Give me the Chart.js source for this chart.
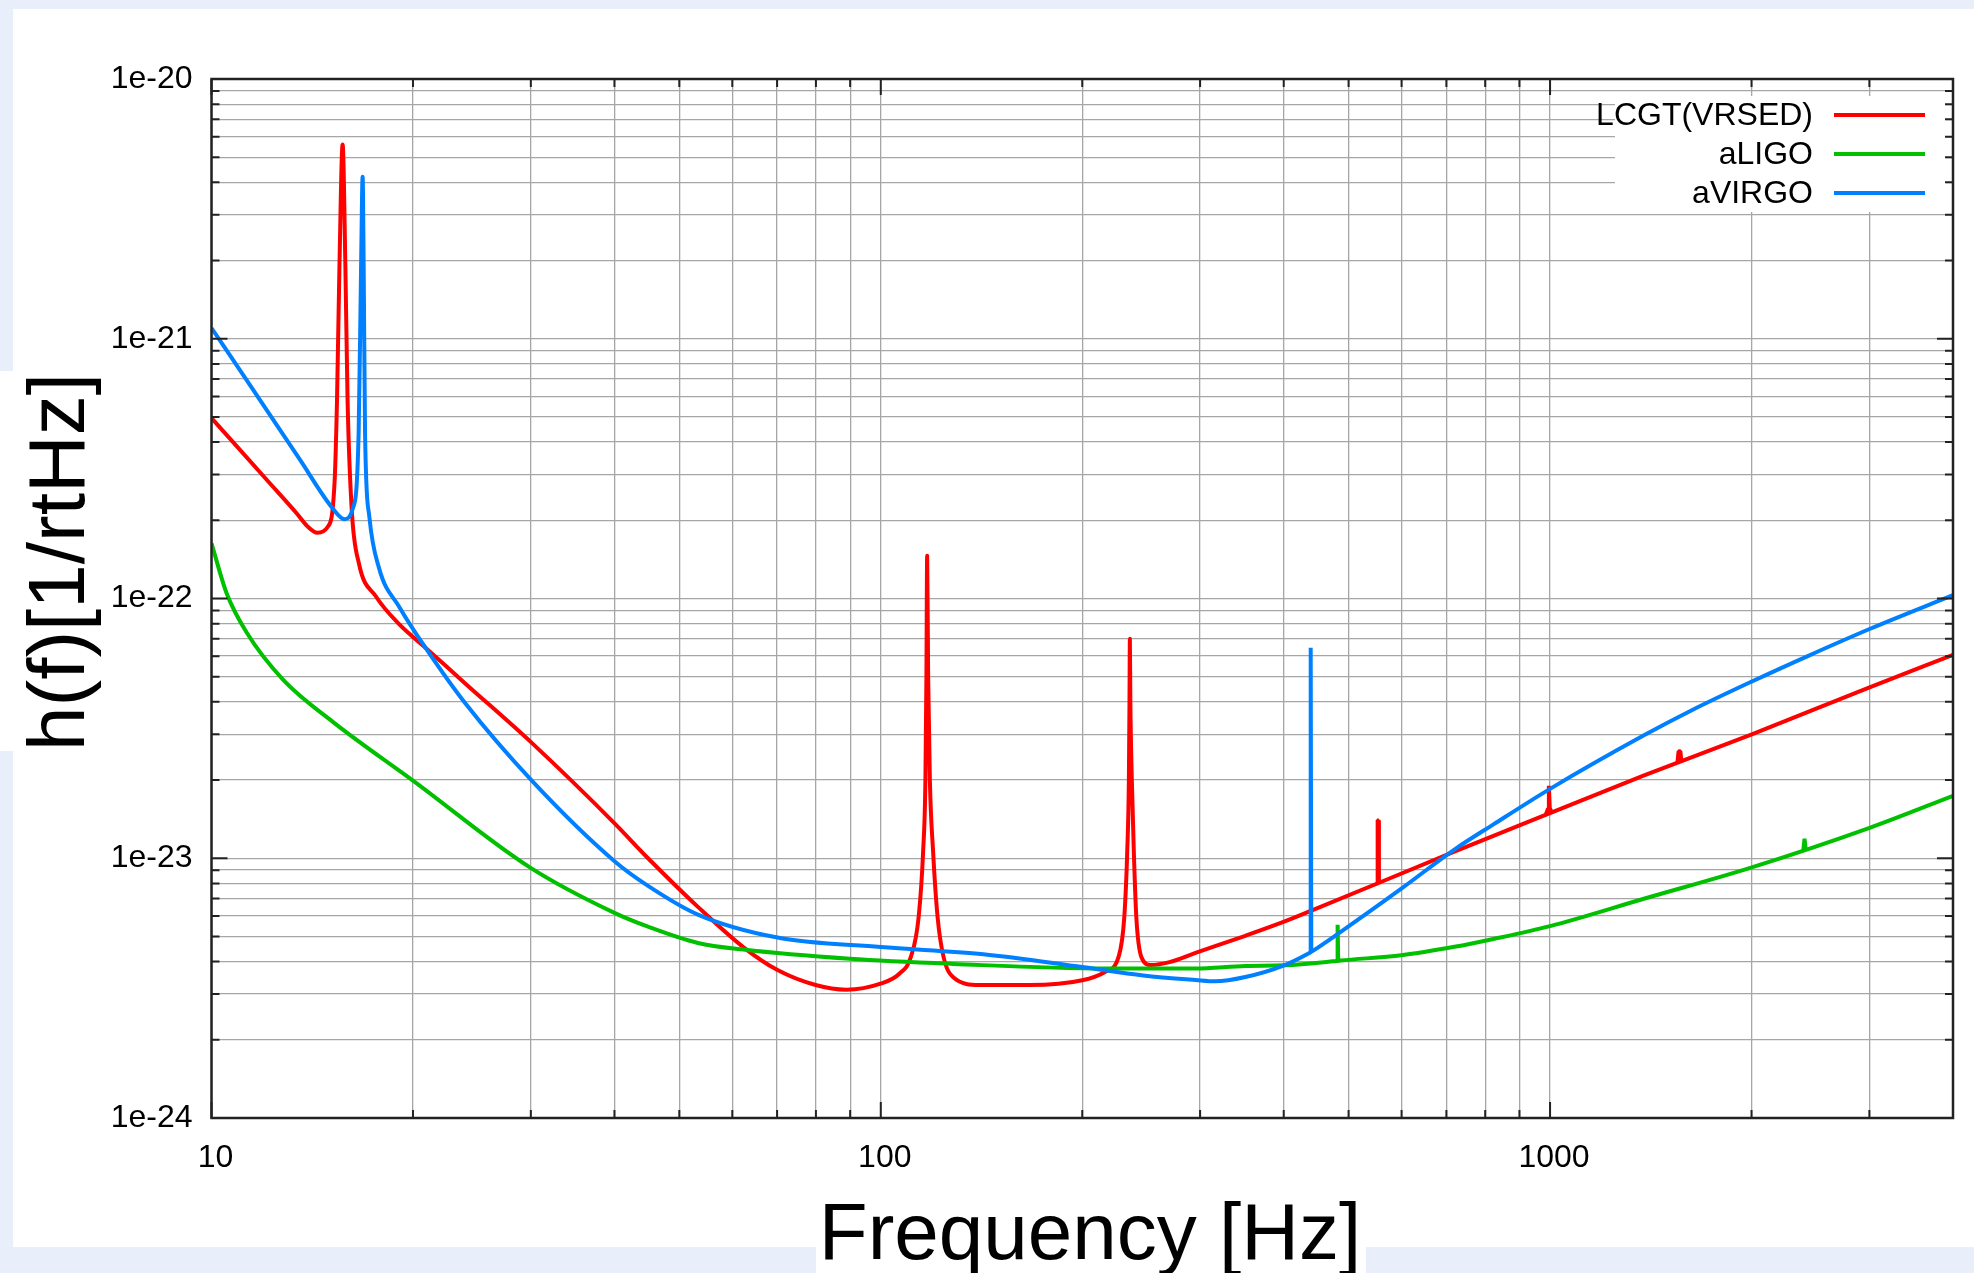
<!DOCTYPE html>
<html>
<head>
<meta charset="utf-8">
<title>Detector sensitivity curves</title>
<script src="https://cdn.jsdelivr.net/npm/chart.js@4.4.1/dist/chart.umd.min.js"></script>
<style>
  html, body { margin: 0; padding: 0; background: #e8effb; }
  #wrap { width: 1974px; height: 1273px; }
</style>
</head>
<body>
<div id="wrap"><canvas id="chart" width="1974" height="1273"></canvas></div>
<script>
// ---- series ---------------------------------------------------------------
const seriesNames  = ['LCGT(VRSED)', 'aLIGO', 'aVIRGO'];
const seriesColors = ['#ff0000', '#00c000', '#0080ff'];

// broadband noise curves (the big suspension / violin resonances included)
const lcgtFreq = [10, 10.77, 12.1, 13.4, 13.9, 14.4, 14.9, 15.27, 15.4, 15.53,
  15.7, 15.85, 15.97, 16.2, 16.6, 17.6, 19.07, 20.9, 23.96, 30.1,
  40.05, 44.9, 53.3, 62.3, 70.1, 79.9, 88.8, 99.9, 106.7, 110.9,
  113.9, 115.7, 116.6, 117.0, 117.3, 117.7, 118.4, 119.7, 121.6, 124.1,
  128.2, 140.5, 166.5, 200, 216.3, 226.6, 231.1, 233.5, 234.8, 235.3,
  235.6, 236.0, 237.2, 238.8, 240.9, 245.1, 253.3, 270, 295.3, 350.5,
  400.5, 439, 719.5, 823, 1379, 2002, 3002, 4000];
const lcgtStrain = [4.95e-22, 4.0e-22, 2.86e-22, 2.13e-22, 1.9e-22, 1.79e-22, 1.88e-22, 2.79e-22, 5.8e-22, 1.9e-21,
  5.6e-21, 1.9e-21, 5.8e-22, 2.2e-22, 1.37e-22, 1.02e-22, 7.96e-23, 6.45e-23, 4.7e-23, 2.78e-23,
  1.36e-23, 1.0e-23, 6.5e-24, 4.55e-24, 3.71e-24, 3.25e-24, 3.12e-24, 3.29e-24, 3.6e-24, 4.17e-24,
  5.92e-24, 1.07e-23, 2.0e-23, 5.0e-23, 1.46e-22, 5.0e-23, 2.0e-23, 1.07e-23, 5.92e-24, 4.17e-24,
  3.49e-24, 3.25e-24, 3.25e-24, 3.39e-24, 3.65e-24, 4.17e-24, 5.92e-24, 1.07e-23, 2.0e-23, 4.0e-23,
  7.0e-23, 4.0e-23, 2.0e-23, 1.07e-23, 5.92e-24, 4.17e-24, 3.88e-24, 3.98e-24, 4.32e-24, 5.03e-24,
  5.7e-24, 6.27e-24, 1.06e-23, 1.22e-23, 2.08e-23, 3.0e-23, 4.55e-23, 6.07e-23];

const aligoFreq = [10, 10.53, 11.28, 12.79, 15.18, 20, 29.9, 40, 44.9, 53.3,
  62.3, 89.9, 128.2, 216.3, 295.3, 350.5, 400.5, 474, 486, 599.5,
  719.5, 823, 1000, 1377, 2002, 3002, 4000];
const aligoStrain = [1.63e-22, 1.05e-22, 7.41e-23, 4.87e-23, 3.35e-23, 1.99e-23, 9.22e-24, 6.16e-24, 5.45e-24, 4.72e-24,
  4.45e-24, 4.1e-24, 3.92e-24, 3.76e-24, 3.76e-24, 3.85e-24, 3.87e-24, 4.01e-24, 4.04e-24, 4.23e-24,
  4.56e-24, 4.89e-24, 5.48e-24, 6.97e-24, 9.23e-24, 1.31e-23, 1.74e-23];

const avirgoFreq = [10, 11.41, 13.54, 15.18, 15.8, 16.26, 16.59, 16.73, 16.82, 16.88,
  16.96, 17.21, 17.81, 19.07, 20.9, 23.96, 30.1, 40.05, 44.9, 53.3,
  70.1, 99.9, 142.3, 200, 246.7, 295.3, 316, 350.5, 400.5, 435.5,
  441.5, 482.5, 599.5, 719.5, 823, 1000, 1377, 1634, 2002, 2436,
  3002, 4000];
const avirgoStrain = [1.1e-21, 6.65e-22, 3.44e-22, 2.22e-22, 2.02e-22, 2.22e-22, 4.33e-22, 1.9e-21, 4.2e-21, 1.9e-21,
  4.33e-22, 2.07e-22, 1.3e-22, 9.3e-23, 6.44e-23, 3.94e-23, 1.99e-23, 9.72e-24, 7.83e-24, 6.07e-24,
  4.95e-24, 4.55e-24, 4.27e-24, 3.81e-24, 3.54e-24, 3.4e-24, 3.36e-24, 3.49e-24, 3.87e-24, 4.3e-24,
  4.39e-24, 5.13e-24, 7.64e-24, 1.08e-23, 1.35e-23, 1.85e-23, 2.96e-23, 3.73e-23, 4.79e-23, 6.03e-23,
  7.63e-23, 1.03e-22];

// narrow lines sitting on top of each curve
const lcgtLineFreq = [
  [551.5, 552.6, 553.6, 555],
  [985, 993, 996, 999, 1006],
  [1550, 1556, 1566, 1571]
];
const lcgtLineStrain = [
  [7.99e-24, 1.4e-23, 1.4e-23, 8.04e-24],
  [1.469e-23, 1.55e-23, 1.9e-23, 1.56e-23, 1.502e-23],
  [2.335e-23, 2.58e-23, 2.58e-23, 2.364e-23]
];
const aligoLineFreq = [
  [480.5, 481.5, 482.5],
  [2390, 2400, 2410]
];
const aligoLineStrain = [
  [4.03e-24, 5.55e-24, 4.035e-24],
  [1.075e-23, 1.19e-23, 1.08e-23]
];
const avirgoLineFreq = [
  [438.0, 438.9, 439.8]
];
const avirgoLineStrain = [
  [4.34e-24, 6.46e-23, 4.36e-24]
];

// ---- axes ------------------------------------------------------------------
const xGrid = [10, 20, 30, 40, 50, 60, 70, 80, 90,
  100, 200, 300, 400, 500, 600, 700, 800, 900,
  1000, 2000, 3000, 4000];
const xLabelValues = [10, 100, 1000];
const xTickLabels  = ['10', '100', '1000'];

const yDecades      = [-24, -23, -22, -21];
const yMantissas    = [1, 2, 3, 4, 5, 6, 7, 8, 9];
const yLabelValues  = [1e-24, 1e-23, 1e-22, 1e-21, 1e-20];
const yTickLabels   = ['1e-24', '1e-23', '1e-22', '1e-21', '1e-20'];

const xTitle = 'Frequency [Hz]';
const yTitle = 'h(f)[1/rtHz]';

const FONT = '"Liberation Sans", Helvetica, Arial, sans-serif';

const yGrid = [];
yDecades.forEach(e => yMantissas.forEach(m => yGrid.push(m * Math.pow(10, e))));
yGrid.push(1e-20);

function labelFor(v, values, labels) {
  const i = values.findIndex(t => Math.abs(Math.log10(t) - Math.log10(v)) < 1e-6);
  return i >= 0 ? labels[i] : '';
}

function points(freq, strain) {
  return freq.map((f, i) => ({ x: f, y: strain[i] }));
}

// ---- decorations: page panel, legend, inward ticks, frame, titles ----------
const decorations = {
  id: 'decorations',
  beforeDraw(chart) {
    const ctx = chart.ctx;
    ctx.save();
    ctx.fillStyle = '#e8effb';
    ctx.fillRect(0, 0, chart.width, chart.height);
    ctx.fillStyle = '#ffffff';
    ctx.fillRect(13, 9, chart.width - 13, 1238);   // main panel
    ctx.fillRect(0, 371, 20, 380);                  // behind the y title
    ctx.fillRect(816, 1240, 550, 40);               // behind the x title
    ctx.restore();
  },
  afterDatasetsDraw(chart) {
    const ctx = chart.ctx;
    const a = chart.chartArea;
    const xs = chart.scales.x, ys = chart.scales.y;
    ctx.save();

    // legend
    ctx.fillStyle = '#ffffff';
    ctx.fillRect(1615, 96, 331, 116);
    ctx.font = '32px ' + FONT;
    ctx.textAlign = 'right';
    ctx.textBaseline = 'middle';
    chart.data.datasets.filter(ds => ds.inLegend).forEach((ds, i) => {
      const y = 115 + i * 39;
      ctx.fillStyle = '#000';
      ctx.fillText(ds.label, 1813, y + 1);
      ctx.strokeStyle = ds.borderColor;
      ctx.lineWidth = 4;
      ctx.beginPath();
      ctx.moveTo(1834, y);
      ctx.lineTo(1925, y);
      ctx.stroke();
    });

    // inward tick marks on all four sides
    ctx.strokeStyle = '#222';
    ctx.lineWidth = 2;
    ctx.beginPath();
    xs.ticks.forEach(t => {
      const px = xs.getPixelForValue(t.value);
      const len = t.label ? 16 : 8;
      ctx.moveTo(px, a.bottom); ctx.lineTo(px, a.bottom - len);
      ctx.moveTo(px, a.top);    ctx.lineTo(px, a.top + len);
    });
    ys.ticks.forEach(t => {
      const py = ys.getPixelForValue(t.value);
      const len = t.label ? 16 : 8;
      ctx.moveTo(a.left, py);  ctx.lineTo(a.left + len, py);
      ctx.moveTo(a.right, py); ctx.lineTo(a.right - len, py);
    });
    ctx.stroke();

    // frame
    ctx.lineWidth = 2.5;
    ctx.strokeRect(a.left, a.top, a.right - a.left, a.bottom - a.top);
    ctx.restore();
  },
  afterDraw(chart) {
    const ctx = chart.ctx;
    ctx.save();
    ctx.fillStyle = '#000';
    ctx.font = '80px ' + FONT;
    ctx.textAlign = 'center';
    ctx.textBaseline = 'alphabetic';
    ctx.fillText(xTitle, 1090, 1259);
    ctx.translate(84, 562);
    ctx.rotate(-Math.PI / 2);
    ctx.fillText(yTitle, 0, 0);
    ctx.restore();
  }
};

const curveStyle = {
  borderWidth: 4,
  pointRadius: 0,
  cubicInterpolationMode: 'monotone',
  fill: false,
  borderJoinStyle: 'round'
};
const lineStyle = {
  borderWidth: 4,
  pointRadius: 0,
  tension: 0,
  fill: false,
  borderJoinStyle: 'bevel'
};

function curve(i, freq, strain, order) {
  return Object.assign({
    label: seriesNames[i], inLegend: true, order,
    data: points(freq, strain),
    borderColor: seriesColors[i], backgroundColor: seriesColors[i]
  }, curveStyle);
}
function lines(i, freqs, strains, order) {
  return freqs.map((f, k) => Object.assign({
    label: seriesNames[i], inLegend: false, order,
    data: points(f, strains[k]),
    borderColor: seriesColors[i], backgroundColor: seriesColors[i]
  }, lineStyle));
}

const datasets = [
  curve(0, lcgtFreq, lcgtStrain, 3),
  curve(1, aligoFreq, aligoStrain, 2),
  curve(2, avirgoFreq, avirgoStrain, 1),
  ...lines(0, lcgtLineFreq, lcgtLineStrain, 3),
  ...lines(1, aligoLineFreq, aligoLineStrain, 2),
  ...lines(2, avirgoLineFreq, avirgoLineStrain, 1)
];

new Chart(document.getElementById('chart'), {
  type: 'line',
  data: { datasets },
  plugins: [decorations],
  options: {
    responsive: false,
    devicePixelRatio: 1,
    animation: false,
    events: [],
    layout: { padding: { top: 79, right: 13, left: 0, bottom: 0 } },
    plugins: { legend: { display: false }, tooltip: { enabled: false } },
    scales: {
      x: {
        type: 'logarithmic',
        min: 10,
        max: 4000,
        afterFit(scale) { scale.height = 155; },
        afterBuildTicks(scale) { scale.ticks = xGrid.map(v => ({ value: v })); },
        border: { display: false },
        grid: { color: '#a6a6a6', lineWidth: 1.3, drawTicks: false },
        ticks: {
          autoSkip: false,
          maxRotation: 0,
          minRotation: 0,
          padding: 21,
          labelOffset: 4,
          color: '#000',
          font: { family: FONT, size: 32 },
          callback: v => labelFor(v, xLabelValues, xTickLabels)
        }
      },
      y: {
        type: 'logarithmic',
        min: 1e-24,
        max: 1e-20,
        afterFit(scale) { scale.width = 211.5; },
        afterBuildTicks(scale) { scale.ticks = yGrid.map(v => ({ value: v })); },
        border: { display: false },
        grid: { color: '#a6a6a6', lineWidth: 1.3, drawTicks: false },
        ticks: {
          autoSkip: false,
          padding: 19,
          color: '#000',
          font: { family: FONT, size: 32 },
          callback: v => labelFor(v, yLabelValues, yTickLabels)
        }
      }
    }
  }
});
</script>
</body>
</html>
